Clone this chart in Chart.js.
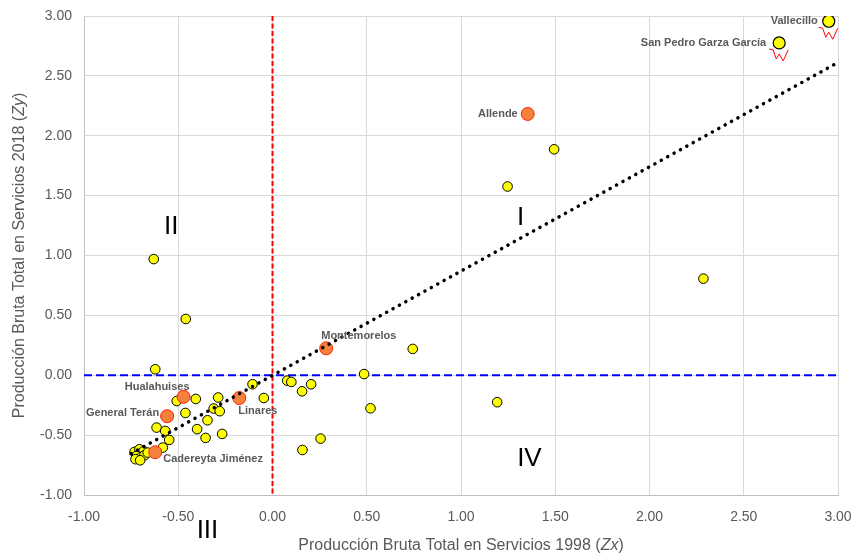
<!DOCTYPE html>
<html>
<head>
<meta charset="utf-8">
<script src="https://cdn.jsdelivr.net/npm/chart.js@4.4.1/dist/chart.umd.min.js"></script>
<style>
  html, body { margin: 0; padding: 0; background: #fff; }
  #wrap { width: 854px; height: 556px; }
</style>
</head>
<body>
<div id="wrap"><canvas id="chart"></canvas></div>
<script>
// municipios sin etiqueta (Zx 1998, Zy 2018)
const otherX = [-0.63, -0.46, -0.622, 0.744, 0.486, 0.078, 0.10, 0.205, 0.157, 0.52, 1.192, 0.255, 0.159,
  1.494, 1.247, 2.286, -0.106, -0.508, -0.407, -0.288, -0.046, -0.312, -0.28, -0.462, -0.345, -0.615,
  -0.569, -0.40, -0.267, -0.548, -0.355, -0.582, -0.732, -0.706, -0.684, -0.72, -0.697, -0.679, -0.727,
  -0.702, -0.662];
const otherY = [0.97, 0.47, 0.05, 0.22, 0.01, -0.045, -0.056, -0.075, -0.134, -0.276, -0.225, -0.529, -0.624,
  1.887, 1.576, 0.807, -0.075, -0.215, -0.198, -0.186, -0.19, -0.278, -0.30, -0.315, -0.376, -0.437,
  -0.465, -0.45, -0.49, -0.54, -0.523, -0.604, -0.640, -0.618, -0.635, -0.674, -0.682, -0.668, -0.701,
  -0.710, -0.646];

// municipios con etiqueta, punto amarillo
const topNames = ["Vallecillo", "San Pedro Garza García"];
const topX = [2.951, 2.688];
const topY = [2.956, 2.775];

// municipios con etiqueta, punto naranja
const keyNames = ["Allende", "Montemorelos", "Hualahuises", "General Terán", "Linares", "Cadereyta Jiménez"];
const keyX = [1.354, 0.285, -0.472, -0.559, -0.176, -0.622];
const keyY = [2.182, 0.225, -0.18, -0.342, -0.19, -0.643];

// línea de tendencia (extremos)
const trendX = [-0.75, 3.0];
const trendY = [-0.655, 2.612];

const xTicks = [-1.0, -0.5, 0.0, 0.5, 1.0, 1.5, 2.0, 2.5, 3.0];
const yTicks = [-1.0, -0.5, 0.0, 0.5, 1.0, 1.5, 2.0, 2.5, 3.0];

const toPoints = (xs, ys) => xs.map((x, i) => ({ x: x, y: ys[i] }));

const FONT = "'Liberation Sans', sans-serif";
const GREY = "#595959";

// label placement: [align, dx, dy]
const keyLabelPos = [
  ["right", -10, 0],
  ["left", -5, -12],
  ["right", 6, -10],
  ["right", -8, -3],
  ["left", -1, 13],
  ["left", 8, 7]
];
const topLabelPos = [["right", -11, 0], ["right", -13, 0]];

const extrasPlugin = {
  id: "extras",
  beforeDatasetsDraw(chart) {
    const { ctx, chartArea, scales } = chart;
    const x0 = scales.x.getPixelForValue(0);
    const y0 = scales.y.getPixelForValue(0);
    ctx.save();
    ctx.lineWidth = 2;
    ctx.strokeStyle = "#ff0000";
    ctx.setLineDash([5, 2.5]);
    ctx.beginPath();
    ctx.moveTo(x0, chartArea.top);
    ctx.lineTo(x0, chartArea.bottom);
    ctx.stroke();
    ctx.strokeStyle = "#0000ff";
    ctx.setLineDash([8, 4]);
    ctx.beginPath();
    ctx.moveTo(chartArea.left, y0);
    ctx.lineTo(chartArea.right, y0);
    ctx.stroke();
    ctx.restore();
  },
  afterDatasetsDraw(chart) {
    const { ctx, chartArea, scales } = chart;
    ctx.save();
    ctx.fillStyle = GREY;
    ctx.font = "bold 11px " + FONT;
    ctx.textBaseline = "middle";

    const keyMeta = chart.getDatasetMeta(2);
    keyMeta.data.forEach((pt, i) => {
      const p = keyLabelPos[i];
      ctx.textAlign = p[0];
      ctx.fillText(keyNames[i], pt.x + p[1], pt.y + p[2]);
    });
    const topMeta = chart.getDatasetMeta(1);
    topMeta.data.forEach((pt, i) => {
      const p = topLabelPos[i];
      ctx.textAlign = p[0];
      ctx.fillText(topNames[i], pt.x + p[1], pt.y + p[2]);
      // red squiggle under the point
      ctx.strokeStyle = "#ff0000";
      ctx.lineWidth = 1;
      ctx.beginPath();
      const sq = [[-10, 6], [-6, 7], [-3, 16], [0, 11], [4, 18], [9, 7]];
      sq.forEach((s, k) => {
        if (k === 0) ctx.moveTo(pt.x + s[0], pt.y + s[1]);
        else ctx.lineTo(pt.x + s[0], pt.y + s[1]);
      });
      ctx.stroke();
    });

    // quadrant numerals
    ctx.fillStyle = "#000";
    ctx.font = "26px " + FONT;
    ctx.textAlign = "center";
    ctx.fillText("II", scales.x.getPixelForValue(-0.537), scales.y.getPixelForValue(1.236));
    ctx.fillText("I", scales.x.getPixelForValue(1.316), scales.y.getPixelForValue(1.315));
    ctx.fillText("IV", scales.x.getPixelForValue(1.363), scales.y.getPixelForValue(-0.697));
    ctx.fillText("III", scales.x.getPixelForValue(-0.345), chartArea.bottom + 36);

    // axis titles with italic variable
    const drawTitle = (parts, cx, cy) => {
      let total = 0;
      parts.forEach(p => { ctx.font = p[1] + " 16px " + FONT; total += ctx.measureText(p[0]).width; });
      let x = cx - total / 2;
      ctx.textAlign = "left";
      parts.forEach(p => {
        ctx.font = p[1] + " 16px " + FONT;
        ctx.fillText(p[0], x, cy);
        x += ctx.measureText(p[0]).width;
      });
    };
    ctx.fillStyle = GREY;
    ctx.textBaseline = "middle";
    drawTitle([["Producción Bruta Total en Servicios 1998 (", "normal"], ["Zx", "italic"], [")", "normal"]],
      (chartArea.left + chartArea.right) / 2, 546);
    ctx.save();
    ctx.translate(20, (chartArea.top + chartArea.bottom) / 2);
    ctx.rotate(-Math.PI / 2);
    drawTitle([["Producción Bruta Total en Servicios 2018 (", "normal"], ["Zy", "italic"], [")", "normal"]], 0, 0);
    ctx.restore();
    ctx.restore();
  }
};

new Chart(document.getElementById("chart"), {
  type: "scatter",
  data: {
    datasets: [
      {
        label: "Tendencia",
        type: "line",
        data: toPoints(trendX, trendY),
        borderColor: "#000",
        borderWidth: 3.5,
        borderDash: [0.1, 7.2],
        borderCapStyle: "round",
        pointRadius: 0,
        fill: false,
        order: 0
      },
      {
        label: "Destacados",
        data: toPoints(topX, topY),
        backgroundColor: "#ffff00",
        borderColor: "#000",
        borderWidth: 1.2,
        pointRadius: 6,
        order: 1
      },
      {
        label: "Clave",
        data: toPoints(keyX, keyY),
        backgroundColor: "#f5823c",
        borderColor: "#ff2000",
        borderWidth: 1,
        pointRadius: 6.5,
        order: 1
      },
      {
        label: "Municipios",
        data: toPoints(otherX, otherY),
        backgroundColor: "#ffff00",
        borderColor: "#000",
        borderWidth: 1,
        pointRadius: 4.8,
        order: 2
      }
    ]
  },
  options: {
    responsive: true,
    maintainAspectRatio: false,
    animation: false,
    layout: { padding: { left: 0, right: 16, top: 16, bottom: 0 } },
    plugins: {
      legend: { display: false },
      tooltip: { enabled: false }
    },
    scales: {
      x: {
        type: "linear",
        min: -1, max: 3,
        afterBuildTicks: s => { s.ticks = xTicks.map(v => ({ value: v })); },
        afterFit: s => { s.height = 61; s.paddingLeft = 0; s.paddingRight = 0; },
        grid: { color: "#d9d9d9", drawTicks: false },
        border: { color: "#bfbfbf" },
        ticks: {
          padding: 14,
          color: GREY,
          font: { family: FONT, size: 14 },
          callback: v => v.toFixed(2)
        }
      },
      y: {
        type: "linear",
        min: -1, max: 3,
        afterBuildTicks: s => { s.ticks = yTicks.map(v => ({ value: v })); },
        afterFit: s => { s.width = 84; s.paddingTop = 0; s.paddingBottom = 0; },
        grid: { color: "#d9d9d9", drawTicks: false },
        border: { color: "#bfbfbf" },
        ticks: {
          padding: 12,
          color: GREY,
          font: { family: FONT, size: 14 },
          callback: v => v.toFixed(2)
        }
      }
    }
  },
  plugins: [extrasPlugin]
});
</script>
</body>
</html>
